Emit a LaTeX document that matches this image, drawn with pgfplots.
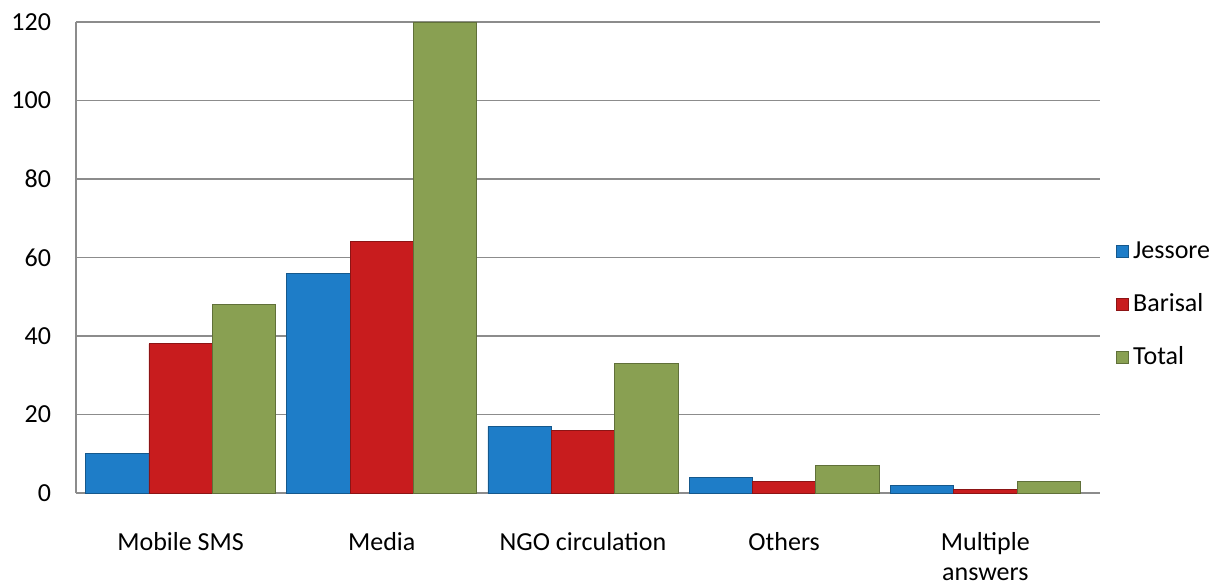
\documentclass[border=0pt]{standalone}
\usepackage{fontspec}
\setmainfont{Carlito}
\usepackage{pgfplots}
\pgfplotsset{compat=1.18}
\definecolor{jes}{RGB}{30,125,200}
\definecolor{bar}{RGB}{200,28,30}
\definecolor{tot}{RGB}{137,160,82}
\definecolor{gridc}{RGB}{140,140,140}
\begin{document}
\begin{tikzpicture}
\begin{axis}[
    at={(0,0)}, anchor=south west,
    scale only axis,
    width=512pt, height=235.5pt,
    ybar=0pt,
    bar width=0.315,
    xmin=-0.52, xmax=4.57,
    ymin=0, ymax=120,
    ytick={0,20,40,60,80,100,120},
    xtick={0,1,2,3,4},
    xticklabels={Mobile SMS,Media,NGO circulation,Others,{Multiple\\answers}},
    xticklabel style={align=center, yshift=-16pt},
    yticklabel style={xshift=-9pt},
    major tick length=0pt,
    ymajorgrids=true,
    grid style={gridc, line width=0.8pt},
    axis x line*=bottom,
    axis y line*=left,
    axis line style={gridc, line width=0.8pt, -},
    /pgf/number format/assume math mode=true,
    tick label style={font=\fontsize{13}{15}\selectfont},
    legend cell align=left,
    legend style={at={(1,0.4)}, anchor=west, xshift=5pt, draw=none,
        font=\fontsize{13}{15}\selectfont, row sep=12pt},
    legend image code/.code={\fill[#1] (0pt,-3pt) rectangle (6pt,3pt);},
    clip=false,
]
\addplot[fill=jes, draw=jes!70!black] coordinates {(0,10) (1,56) (2,17) (3,4) (4,2)};
\addplot[fill=bar, draw=bar!70!black] coordinates {(0,38) (1,64) (2,16) (3,3) (4,1)};
\addplot[fill=tot, draw=tot!70!black] coordinates {(0,48) (1,120) (2,33) (3,7) (4,3)};
\legend{Jessore,Barisal,Total}
\end{axis}
\pgfresetboundingbox
\path[use as bounding box] (-38pt,-45.5pt) rectangle (570.5pt,246.5pt);
\end{tikzpicture}
\end{document}
